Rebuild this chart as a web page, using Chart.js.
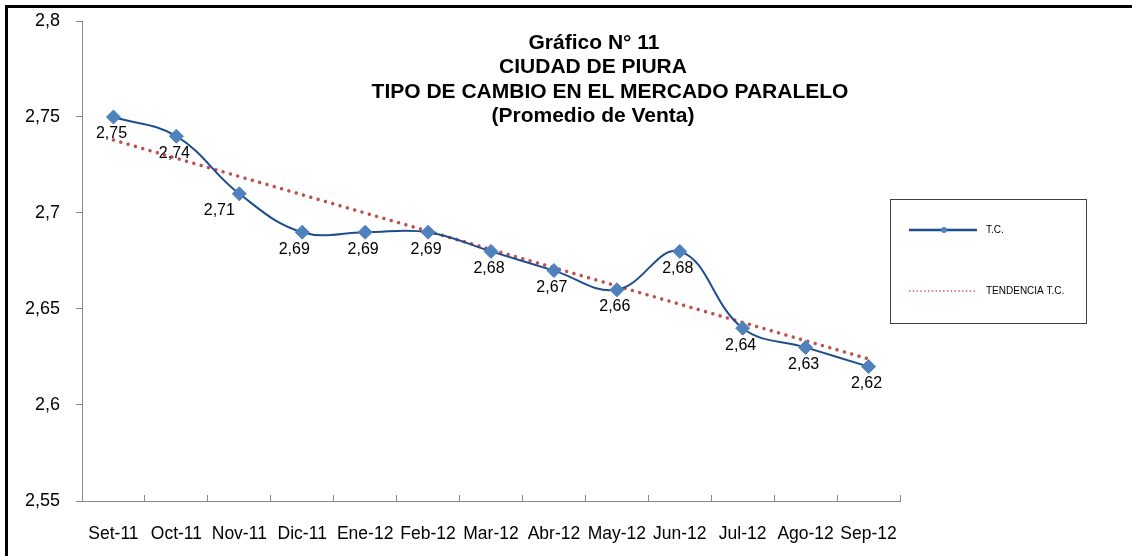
<!DOCTYPE html>
<html lang="es">
<head>
<meta charset="utf-8">
<title>Tipo de cambio - Piura</title>
<script src="https://cdn.jsdelivr.net/npm/chart.js@4.4.1/dist/chart.umd.min.js"></script>
<style>
  html, body { margin: 0; padding: 0; background: #fff; }
  #wrap { position: relative; width: 1132px; height: 556px; overflow: hidden; }
  #marco { position: absolute; left: 5px; top: 5px; right: -10px; bottom: -10px;
           border-left: 3px solid #000; border-top: 3px solid #000; pointer-events: none; }
  canvas { position: absolute; left: 0; top: 0; }
</style>
</head>
<body>
<div id="wrap">
  <canvas id="tcChart" width="1132" height="556"></canvas>
  <div id="marco"></div>
</div>
<script>
// Datos del gráfico
const meses = ['Set-11', 'Oct-11', 'Nov-11', 'Dic-11', 'Ene-12', 'Feb-12', 'Mar-12',
               'Abr-12', 'May-12', 'Jun-12', 'Jul-12', 'Ago-12', 'Sep-12'];
const tipoCambio = [2.75, 2.74, 2.71, 2.69, 2.69, 2.69, 2.68, 2.67, 2.66, 2.68, 2.64, 2.63, 2.62];
// Tendencia (inicio y fin de la recta)
const tendencia = [2.738, null, null, null, null, null, null, null, null, null, null, null, 2.624];
const ejeY = [2.55, 2.6, 2.65, 2.7, 2.75, 2.8];
const nombresSeries = ['T.C.', 'TENDENCIA T.C.'];
const titulo = ['Gráfico N° 11', 'CIUDAD DE PIURA', 'TIPO DE CAMBIO EN EL MERCADO PARALELO', '(Promedio de Venta)'];

const FUENTE = '"Liberation Sans", Arial, sans-serif';
const AZUL_LINEA = '#1f4e8c';
const AZUL_MARCA = '#4f81bd';
const ROJO = '#c0504d';

const coma = v => Number(v).toFixed(2).replace(/0$/, '').replace('.', ',');

// Textos extra: etiquetas, título y leyenda
const extras = {
  id: 'extras',
  afterDatasetsDraw(chart) {
    const ctx = chart.ctx;
    ctx.save();

    // Etiquetas de datos debajo de cada punto (algunas movidas a mano en el original)
    const meta = chart.getDatasetMeta(0);
    const corrimiento = { 2: -20, 3: -8 };
    ctx.fillStyle = '#000';
    ctx.font = '16px ' + FUENTE;
    ctx.textAlign = 'center';
    ctx.textBaseline = 'middle';
    meta.data.forEach((pt, i) => {
      const dx = corrimiento[i] !== undefined ? corrimiento[i] : -2;
      ctx.fillText(coma(tipoCambio[i]), pt.x + dx, pt.y + 17);
    });

    // Título
    ctx.font = 'bold 21px ' + FUENTE;
    const centros = [594, 593, 610, 593];
    const filas = [43, 67, 92, 116];
    titulo.forEach((t, i) => ctx.fillText(t, centros[i], filas[i]));

    // Leyenda
    ctx.strokeStyle = '#404040';
    ctx.lineWidth = 1;
    ctx.strokeRect(890.5, 199.5, 196, 124);

    ctx.strokeStyle = AZUL_LINEA;
    ctx.lineWidth = 2.5;
    ctx.beginPath();
    ctx.moveTo(909, 230);
    ctx.lineTo(977, 230);
    ctx.stroke();
    ctx.fillStyle = AZUL_MARCA;
    ctx.beginPath();
    ctx.arc(944, 230, 3, 0, Math.PI * 2);
    ctx.fill();

    ctx.strokeStyle = ROJO;
    ctx.lineWidth = 1.3;
    ctx.setLineDash([1.3, 2.5]);
    ctx.beginPath();
    ctx.moveTo(909, 291);
    ctx.lineTo(977, 291);
    ctx.stroke();
    ctx.setLineDash([]);

    ctx.fillStyle = '#000';
    ctx.font = '10px ' + FUENTE;
    ctx.textAlign = 'left';
    ctx.fillText(nombresSeries[0], 986, 230);
    ctx.fillText(nombresSeries[1], 986, 291);

    ctx.restore();
  }
};

new Chart(document.getElementById('tcChart'), {
  type: 'line',
  data: {
    labels: meses,
    datasets: [
      {
        label: nombresSeries[0],
        data: tipoCambio,
        borderColor: AZUL_LINEA,
        borderWidth: 2,
        tension: 0.4,
        pointStyle: 'rectRot',
        pointRadius: 7,
        pointBackgroundColor: AZUL_MARCA,
        pointBorderColor: AZUL_MARCA,
        pointBorderWidth: 1
      },
      {
        label: nombresSeries[1],
        data: tendencia,
        spanGaps: true,
        borderColor: ROJO,
        borderWidth: 3.5,
        borderDash: [0.01, 7.6],
        borderCapStyle: 'round',
        pointRadius: 0,
        tension: 0
      }
    ]
  },
  options: {
    responsive: false,
    animation: false,
    devicePixelRatio: 1,
    layout: { padding: { left: 0, top: 21, right: 232, bottom: 0 } },
    plugins: {
      legend: { display: false },
      tooltip: { enabled: false },
      title: { display: false }
    },
    scales: {
      x: {
        offset: true,
        grid: { offset: true, drawOnChartArea: false, tickLength: -6, color: '#868686' },
        border: { color: '#868686' },
        ticks: { color: '#000', font: { family: FUENTE, size: 17.5 }, padding: 29, maxRotation: 0, autoSkip: false },
        afterFit: s => { s.height = 55; s.paddingLeft = 0; s.paddingRight = 0; }
      },
      y: {
        min: ejeY[0],
        max: ejeY[ejeY.length - 1],
        grid: { drawOnChartArea: false, tickLength: 6, color: '#868686' },
        border: { color: '#868686' },
        ticks: { stepSize: 0.05, color: '#000', font: { family: FUENTE, size: 18 }, padding: 16, callback: v => coma(v) },
        afterFit: s => { s.width = 82; s.paddingTop = 0; s.paddingBottom = 0; }
      }
    }
  },
  plugins: [extras]
});
</script>
</body>
</html>
